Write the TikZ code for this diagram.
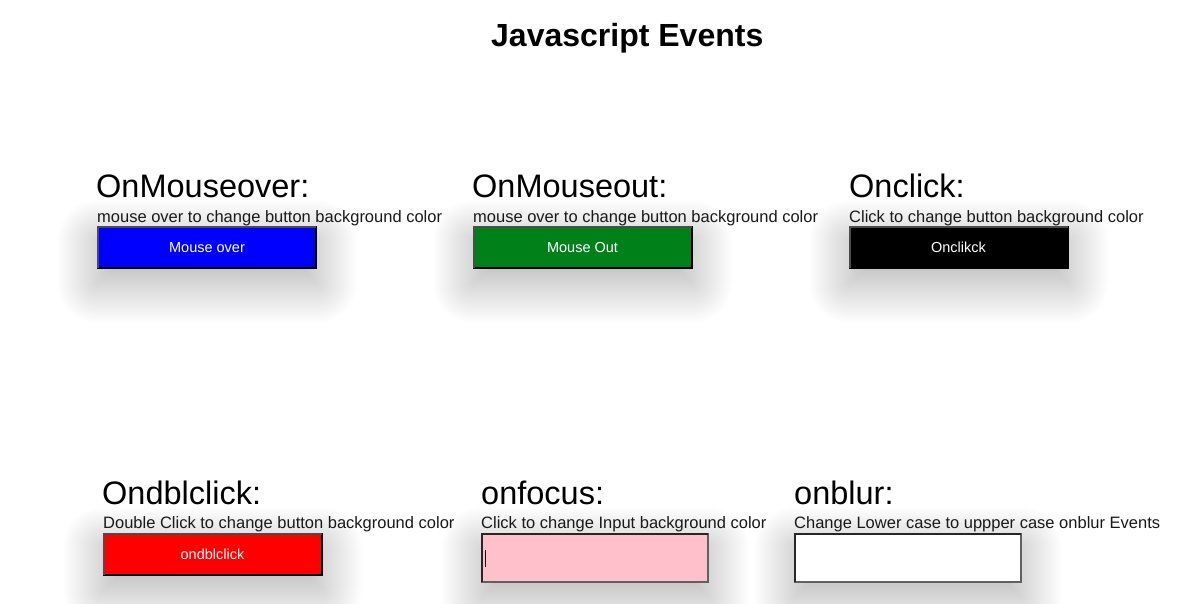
\documentclass[tikz,border=0pt]{standalone}
\usepackage{fontspec}
\setmainfont{Liberation Sans}
\usetikzlibrary{backgrounds}
\pgfdeclarelayer{shadowlayer}
\pgfsetlayers{background,shadowlayer,main}
\definecolor{btnblue}{RGB}{0,0,255}
\definecolor{btngreen}{RGB}{0,128,25}
\definecolor{btnred}{RGB}{255,0,0}
\definecolor{inpink}{RGB}{255,192,203}
\definecolor{txtcol}{RGB}{25,25,25}
\tikzset{
  titletext/.style={anchor=base west, inner sep=0pt, font=\fontsize{32}{36}\selectfont\bfseries},
  heading/.style={anchor=base west, inner sep=0pt, font=\fontsize{32.5}{36}\selectfont},
  subtext/.style={anchor=base west, inner sep=0pt, text=txtcol, font=\fontsize{16.5}{19}\selectfont},
  btn/.style={draw=black, line width=2pt, minimum width=218pt, minimum height=41pt, inner sep=0pt, text=white, font=\fontsize{14.5}{16}\selectfont},
  inputbox/.style={draw=gray!75!black, line width=2pt, minimum width=226pt, minimum height=48pt, inner sep=0pt},
}
\newcommand\mydropshadow[1]{%
  \begin{pgfonlayer}{shadowlayer}
    \foreach \R in {-16,-15,...,40}{%
      \pgfmathsetmacro\rc{max(\R,1)}%
      \fill[black, opacity=0.0048, rounded corners=\rc pt]
        ([xshift=-\R pt, yshift=\R pt-14pt]#1.north west) rectangle
        ([xshift=\R pt, yshift=-\R pt-14pt]#1.south east);
    }
  \end{pgfonlayer}%
}
\newcommand\outsetedge[1]{%
  \draw[line width=2pt, gray!60!black] ([xshift=1pt,yshift=1pt]#1.south west) -- ([xshift=1pt,yshift=-1pt]#1.north west) -- ([xshift=-1pt,yshift=-1pt]#1.north east);
}
\newcommand\insetedge[1]{%
  \draw[line width=2pt, black!85] ([xshift=1pt,yshift=1pt]#1.south west) -- ([xshift=1pt,yshift=-1pt]#1.north west) -- ([xshift=-1pt,yshift=-1pt]#1.north east);
}
\begin{document}
\begin{tikzpicture}[x=1pt, y=-1pt]
  \begin{pgfonlayer}{background}
    \fill[white] (0,0) rectangle (1198,604);
  \end{pgfonlayer}
  \useasboundingbox (0,0) rectangle (1198,604);

  \node[titletext] (title) at (491,47) {Javascript Events};

  % row 1
  \node[heading] (h1) at (96,197) {OnMouseover:};
  \node[subtext] (s1) at (97,222) {mouse over to change button background color};
  \node[btn, fill=btnblue] (b1) at (207,247.5) {Mouse over};
  \outsetedge{b1}

  \node[heading] (h2) at (472,197) {OnMouseout:};
  \node[subtext] (s2) at (473,222) {mouse over to change button background color};
  \node[btn, fill=btngreen] (b2) at (582.5,247.5) {Mouse Out};
  \outsetedge{b2}

  \node[heading] (h3) at (849,197) {Onclick:};
  \node[subtext] (s3) at (849,222) {Click to change button background color};
  \node[btn, fill=black] (b3) at (958.5,247.5) {Onclikck};
  \outsetedge{b3}

  % row 2
  \node[heading] (h4) at (102,504) {Ondblclick:};
  \node[subtext] (s4) at (103,528) {Double Click to change button background color};
  \node[btn, fill=btnred] (b4) at (212.5,554.5) {ondblclick};
  \outsetedge{b4}

  \node[heading] (h5) at (481,504) {onfocus:};
  \node[subtext] (s5) at (481,528) {Click to change Input background color};
  \node[inputbox, fill=inpink] (b5) at (595,558) {};
  \insetedge{b5}
  \draw[line width=1pt, black] ([xshift=4.5pt, yshift=8.5pt]b5.west) -- ([xshift=4.5pt, yshift=-8.5pt]b5.west);

  \node[heading] (h6) at (794,504) {onblur:};
  \node[subtext] (s6) at (794,528) {Change Lower case to uppper case onblur Events};
  \node[inputbox, fill=white] (b6) at (908,558) {};
  \insetedge{b6}

  \mydropshadow{b1}
  \mydropshadow{b2}
  \mydropshadow{b3}
  \mydropshadow{b4}
  \mydropshadow{b5}
  \mydropshadow{b6}
\end{tikzpicture}
\end{document}
